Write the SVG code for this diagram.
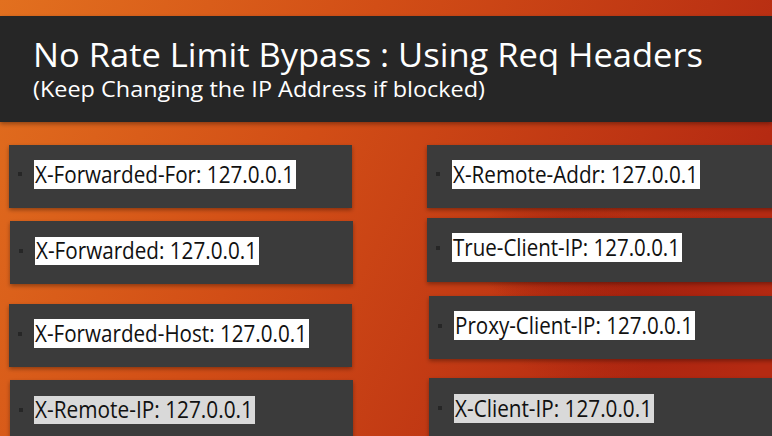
<svg xmlns="http://www.w3.org/2000/svg" width="772" height="436" viewBox="0 0 772 436">
<defs>
<linearGradient id="bg" x1="0" y1="0" x2="1" y2="0.3">
<stop offset="0" stop-color="#e2701f"/>
<stop offset="0.45" stop-color="#d24e16"/>
<stop offset="1" stop-color="#b52a12"/>
</linearGradient>
<radialGradient id="blob" cx="0.5" cy="0.5" r="0.5">
<stop offset="0" stop-color="#9c1c0c" stop-opacity="0.7"/>
<stop offset="1" stop-color="#9c1c0c" stop-opacity="0"/>
</radialGradient>
<filter id="sh" x="-5%" y="-10%" width="110%" height="130%">
<feDropShadow dx="0" dy="2" stdDeviation="2" flood-color="#000" flood-opacity="0.35"/>
</filter>
</defs>
<style>
.box{fill:#3b3b3b;filter:url(#sh)}
.hl{fill:#ffffff}
.hl2{fill:#d9d9d9}
.bul{fill:#262626}
.t{font-family:"Open Sans","Noto Sans","Liberation Sans",sans-serif;font-size:23px;fill:#111111}
.title{font-family:"Open Sans","Noto Sans","Liberation Sans",sans-serif;fill:#ffffff}
</style>
<rect x="0" y="0" width="772" height="436" fill="url(#bg)"/>
<ellipse cx="640" cy="300" rx="150" ry="110" fill="url(#blob)"/>
<ellipse cx="560" cy="250" rx="90" ry="60" fill="url(#blob)"/>
<g id="header">
<rect x="0" y="16" width="772" height="106" fill="#262626" filter="url(#sh)"/>
<text class="title" x="33" y="67" font-size="32" font-weight="500" textLength="670" lengthAdjust="spacingAndGlyphs">No Rate Limit Bypass : Using Req Headers</text>
<text class="title" x="33" y="97" font-size="21" font-weight="500" textLength="452" lengthAdjust="spacingAndGlyphs">(Keep Changing the IP Address if blocked)</text>
</g>
<g id="connectors"></g>
<g id="n1">
<rect class="box" x="9" y="145" width="343" height="63"/>
<rect class="bul" x="18" y="172" width="4" height="4"/>
<rect class="hl" x="34" y="160" width="262" height="29"/>
<text class="t" x="35" y="183" textLength="259" lengthAdjust="spacingAndGlyphs">X-Forwarded-For: 127.0.0.1</text>
</g>
<g id="n2">
<rect class="box" x="10" y="221" width="343" height="63"/>
<rect class="bul" x="19" y="249" width="4" height="4"/>
<rect class="hl" x="35" y="237" width="224" height="28"/>
<text class="t" x="36" y="259" textLength="221" lengthAdjust="spacingAndGlyphs">X-Forwarded: 127.0.0.1</text>
</g>
<g id="n3">
<rect class="box" x="9" y="304" width="343" height="63"/>
<rect class="bul" x="18" y="332" width="4" height="4"/>
<rect class="hl" x="34" y="319" width="275" height="29"/>
<text class="t" x="35" y="342" textLength="272" lengthAdjust="spacingAndGlyphs">X-Forwarded-Host: 127.0.0.1</text>
</g>
<g id="n4">
<rect class="box" x="10" y="380" width="343" height="60"/>
<rect class="bul" x="19" y="408" width="4" height="4"/>
<rect class="hl2" x="34" y="396" width="221" height="28"/>
<text class="t" x="35" y="418" textLength="218" lengthAdjust="spacingAndGlyphs">X-Remote-IP: 127.0.0.1</text>
</g>
<g id="n5">
<rect class="box" x="427" y="145" width="350" height="63"/>
<rect class="bul" x="436" y="172" width="4" height="4"/>
<rect class="hl" x="452" y="160" width="248" height="29"/>
<text class="t" x="453" y="183" textLength="245" lengthAdjust="spacingAndGlyphs">X-Remote-Addr: 127.0.0.1</text>
</g>
<g id="n6">
<rect class="box" x="427" y="218" width="350" height="64"/>
<rect class="bul" x="436" y="246" width="4" height="4"/>
<rect class="hl" x="452" y="233" width="230" height="29"/>
<text class="t" x="453" y="256" textLength="227" lengthAdjust="spacingAndGlyphs">True-Client-IP: 127.0.0.1</text>
</g>
<g id="n7">
<rect class="box" x="429" y="296" width="348" height="63"/>
<rect class="bul" x="438" y="324" width="4" height="4"/>
<rect class="hl" x="454" y="311" width="241" height="29"/>
<text class="t" x="455" y="334" textLength="238" lengthAdjust="spacingAndGlyphs">Proxy-Client-IP: 127.0.0.1</text>
</g>
<g id="n8">
<rect class="box" x="429" y="378" width="348" height="62"/>
<rect class="bul" x="438" y="406" width="4" height="4"/>
<rect class="hl2" x="454" y="394" width="200" height="29"/>
<text class="t" x="455" y="417" textLength="197" lengthAdjust="spacingAndGlyphs">X-Client-IP: 127.0.0.1</text>
</g>
</svg>
